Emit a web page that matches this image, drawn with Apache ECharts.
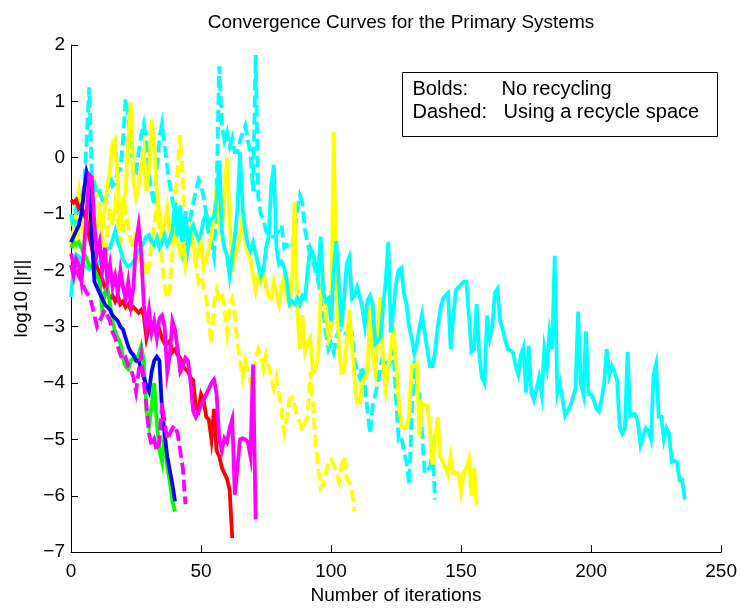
<!DOCTYPE html>
<html>
<head>
<meta charset="utf-8">
<title>Convergence Curves</title>
<script src="https://cdn.jsdelivr.net/npm/echarts@6/dist/echarts.min.js"></script>
<style>
  html, body { margin: 0; padding: 0; background: #fff; }
  #chart { width: 740px; height: 610px; }
</style>
</head>
<body>
<div id="chart"></div>
<script>
// log10 ||r|| per iteration (index = iteration number)
const redSolid = [-0.75, -0.8, -0.75, -0.9, -0.85, -1.0, -1.1, -1.4, -1.6, -1.8, -1.95, -2.05, -2.15, -2.3, -2.4, -2.5, -2.45, -2.55, -2.45, -2.6,
  -2.55, -2.65, -2.6, -2.7, -2.65, -2.7, -2.75, -2.7, -2.8, -3.2, -3.0, -3.0, -3.05, -3.1, -3.05, -3.2, -3.3, -3.3, -3.25, -3.45,
  -3.4, -3.5, -3.55, -3.7, -3.75, -3.8, -3.9, -3.95, -4.45, -4.5, -4.2, -4.3, -4.6, -4.65, -5.0, -4.46, -5.2, -5.3, -5.5, -5.6,
  -5.7, -5.9, -6.75];

const blueSolid = [-1.5, -1.4, -1.3, -1.2, -1.0, -0.6, -0.25, -0.4, -1.4, -2.2, -2.3, -2.4, -2.5, -2.6, -2.65, -2.7, -2.8, -2.85, -2.9, -3.0,
  -3.05, -3.2, -3.35, -3.45, -3.5, -3.6, -3.6, -3.75, -3.9, -4.05, -4.15, -3.8, -3.6, -3.53, -3.6, -4.47, -4.9, -5.3, -5.55, -5.8,
  -6.1];

const greenSolid = [-1.6, -1.5, -1.55, -1.5, -1.6, -1.7, -1.8, -1.9, -1.95, -2.0, -2.1, -2.2, -2.7, -2.4, -2.3, -2.6, -2.9, -3.1, -3.2, -3.3,
  -3.55, -3.7, -3.75, -3.6, -3.55, -3.6, -3.5, -3.35, -3.6, -4.5, -4.75, -4.4, -4.0, -4.7, -5.2, -5.4, -4.88, -5.5, -5.75, -6.1,
  -6.28];

const magentaSolid = [-1.9, -2.1, -1.8, -1.9, -2.2, -1.6, -1.0, -0.3, -0.35, -1.2, -1.7, -1.5, -2.0, -1.6, -2.2, -1.9, -2.3, -2.1, -2.4, -2.0,
  -2.3, -2.5, -2.2, -2.6, -2.3, -1.5, -1.2, -1.7, -2.6, -3.0, -2.7, -3.1, -2.9, -3.2, -2.85, -2.8, -3.0, -3.8, -3.5, -2.9,
  -3.05, -3.4, -3.8, -3.7, -3.55, -3.6, -4.0, -4.5, -4.6, -4.5, -4.4, -4.3, -4.2, -4.1, -4.0, -3.94, -4.2, -5.0, -5.2, -4.98,
  -5.05, -4.8, -4.64, -5.98, -5.5, -5.0, -4.98, -5.0, -5.05, -5.3, -3.67, -6.42];

const magentaDashed = [-1.7, -1.9, -2.0, -2.1, -2.2, -2.3, -2.4, -2.45, -2.6, -2.8, -3.0, -2.9, -2.8, -2.7, -2.8, -2.9, -3.1, -3.2, -3.35, -3.5,
  -3.6, -3.55, -3.7, -3.75, -3.9, -4.15, -3.8, -3.5, -4.0, -4.4, -4.9, -5.1, -5.0, -5.2, -5.05, -4.35, -4.7, -5.0, -4.9, -4.8,
  -4.75, -4.9, -5.2, -5.5, -6.15];

const yellowSolid = [-1.55, -1.3, -1.5, -1.25, -1.0, -1.2, -0.9, -1.1, -1.3, -1.4, -1.2, -1.0, -1.3, -0.9, -0.5, -0.2, 0.28, 0.33, -0.4, -1.3,
  -0.8, -0.6, 0.3, 0.98, -0.4, -0.7, -0.5, -0.2, 0.1, -0.6, -0.2, 0.68, 0.2, -0.6, -1.0, -1.4, -1.2, -0.9, -1.3, -1.5,
  -1.35, -1.5, -1.7, -1.5, -1.9, -1.6, -1.3, -1.5, -1.85, -1.6, -1.5, -1.95, -1.8, -1.6, -1.4, -1.0, -0.5, -1.2, -1.4, -0.6,
  0.0, -1.1, -1.95, -1.8, -1.6, -1.4, -1.0, -1.5, -1.7, -1.8, -2.1, -2.35, -2.1, -2.2, -2.0, -2.3, -2.45, -2.5, -2.2, -2.4,
  -2.6, -2.3, -2.1, -2.5, -2.6, -2.2, -0.78, -2.7, -3.4, -2.8, -3.45, -3.3, -3.2, -3.8, -3.76, -3.5, -2.5, -2.2, -2.8, -3.2,
  -3.0, 0.45, -2.2, -3.3, -3.82, -3.8, -3.3, -2.7, -3.3, -3.9, -4.35, -4.35, -4.0, -3.9, -3.8, -2.65, -3.5, -3.8, -3.1, -2.47,
  -3.6, -4.1, -3.7, -3.4, -3.0, -3.6, -4.3, -4.75, -4.8, -4.8, -4.6, -3.7, -3.7, -3.65, -4.95, -4.35, -4.4, -4.4, -4.8, -5.45,
  -5.0, -4.6, -5.3, -5.4, -5.5, -5.63, -5.3, -5.6, -5.6, -5.6, -5.93, -5.6, -5.5, -5.35, -6.0, -5.5, -6.16];

const yellowDashed = [-1.0, -1.4, -0.9, -0.6, -1.1, -1.5, -1.0, -0.6, -0.9, -0.4, -0.5, -0.9, -1.4, -1.7, -1.3, -0.9, -1.2, -0.8, -1.1, -1.5,
  -1.3, -0.9, -1.2, -1.5, -1.6, -1.3, -1.7, -2.0, -1.8, -2.1, -1.9, -1.5, -1.2, -0.8, -1.3, -1.8, -2.3, -2.5, -2.3, -1.6,
  -0.9, -0.2, 0.4, -0.4, -1.2, -1.5, -1.3, -1.6, -1.9, -2.2, -2.1, -2.3, -2.5, -2.95, -3.3, -2.6, -2.35, -2.5, -2.4, -2.7,
  -3.1, -2.6, -2.5, -2.8, -3.3, -3.6, -3.9, -3.6, -3.8, -4.0, -3.75, -3.6, -3.4, -3.5, -3.75, -3.5, -3.7, -3.9, -4.1, -3.9,
  -4.2, -4.5, -4.88, -4.6, -4.3, -4.25, -4.4, -4.6, -4.7, -4.85, -4.7, -4.6, -3.8, -4.35, -5.05, -5.5, -5.87, -5.8, -5.6, -5.4,
  -5.35, -5.45, -5.6, -5.75, -5.5, -5.3, -5.7, -5.75, -5.9, -6.28];

const cyanSolid = [-2.47, -1.95, -1.72, -1.75, -1.85, -1.9, -1.95, -1.98, -1.95, -1.97, -1.9, -1.85, -1.75, -1.68, -1.62, -1.6, -1.45, -1.3, -1.5, -1.62,
  -1.8, -1.88, -1.93, -1.9, -1.85, -1.75, -1.65, -1.6, -1.5, -1.4, -1.37, -1.5, -1.55, -1.42, -1.6, -1.5, -1.38, -1.55, -1.45, -1.3,
  -0.8, -1.4, -0.85, -1.5, -0.95, -1.6, -1.3, -1.2, -1.35, -1.45, -1.35, -1.1, -1.0, -1.2, -1.1, -1.05, -0.75, -0.05, -1.3, -1.6,
  -1.75, -2.1, -1.75, -1.4, -0.9, 0.1, -0.9, -1.3, -1.55, -1.65, -1.5, -1.7, -1.9, -2.1, -2.0, -1.6, -1.4, -0.5, -0.13, -1.6,
  -1.9, -1.85, -1.95, -2.2, -2.6, -2.55, -2.6, -2.5, -2.6, -2.45, -2.5, -2.0, -1.6, -1.7, -1.9, -2.1, -1.4, -2.4, -2.55, -2.5,
  -2.9, -2.0, -1.48, -2.2, -3.0, -2.5, -1.9, -1.77, -2.5, -2.45, -2.3, -2.45, -2.67, -2.98, -2.53, -2.45, -2.6, -3.3, -3.25, -3.2,
  -2.67, -2.2, -1.5, -3.1, -2.7, -2.23, -2.0, -1.96, -2.4, -2.6, -3.0, -3.2, -3.47, -3.3, -3.0, -2.78, -3.1, -3.4, -3.7, -3.7,
  -3.45, -3.0, -2.7, -2.5, -2.45, -2.4, -3.4, -2.8, -2.35, -2.3, -2.25, -2.2, -2.2, -2.8, -3.44, -3.4, -2.6, -3.5, -3.9, -4.0,
  -2.8, -3.2, -3.0, -2.4, -2.33, -2.9, -3.05, -3.25, -3.4, -3.42, -3.46, -3.7, -3.85, -3.5, -3.37, -4.17, -3.34, -4.17, -4.3, -4.1,
  -3.9, -4.2, -3.4, -3.7, -3.1, -3.4, -1.74, -4.18, -4.0, -4.3, -4.58, -4.5, -4.4, -4.25, -4.1, -2.73, -4.0, -4.2, -3.08, -4.2,
  -4.2, -4.3, -4.45, -4.5, -4.3, -4.0, -3.4, -3.86, -3.7, -3.8, -3.95, -4.8, -4.9, -4.8, -3.45, -4.58, -4.55, -4.55, -4.7, -5.1,
  -4.95, -4.8, -4.85, -5.0, -3.86, -3.66, -4.6, -4.6, -5.0, -4.8, -4.9, -5.4, -5.38, -5.4, -5.72, -5.72, -6.07];

const cyanDashed = [-1.0, -1.3, -0.9, -1.2, -0.8, -0.5, 0.3, 1.25, -0.3, -0.45, -0.65, -0.6, -0.75, -0.85, -0.6, -0.3, -0.5, -0.45, -0.25, -0.2,
  0.3, 1.05, 0.7, 0.3, -0.2, -0.25, 0.1, 0.4, 0.6, 0.3, -0.3, -0.6, -0.85, -0.2, 0.35, 0.6, 0.2, -0.15, -0.5, -0.75,
  -1.0, -1.25, -1.1, -1.65, -1.4, -1.2, -1.05, -0.8, -0.6, -0.4, -0.5, -0.7, -1.0, -1.4, -1.5, -1.75, -0.5, 1.62, 0.6, 0.3,
  0.45, 0.2, 0.35, 0.1, 0.1, 0.3, 0.45, 0.57, 0.3, 0.1, -0.6, 1.82, -0.7, -1.0, -1.1, -1.3, -1.4, -1.4, -1.4, -1.35,
  -1.3, -1.2, -1.6, -1.55, -1.6, -1.6, -1.3, -0.9, -0.67, -0.8, -1.3, -1.5, -1.75, -1.85, -2.0, -2.2, -2.4, -2.7, -3.1, -3.4,
  -3.3, -3.45, -3.2, -3.05, -3.1, -3.15, -3.1, -3.1, -3.1, -3.6, -3.8, -3.9, -3.7, -4.05, -4.5, -4.9, -4.4, -4.2, -4.0, -3.7,
  -3.5, -3.6, -3.7, -3.6, -3.4, -4.3, -5.0, -4.95, -5.2, -5.4, -5.8, -4.6, -3.6, -4.0, -4.2, -4.9, -5.6, -5.55, -5.5, -5.2,
  -6.07];

const xTicks = [0, 50, 100, 150, 200, 250];
const yTicks = [-7, -6, -5, -4, -3, -2, -1, 0, 1, 2];

const font = 'Liberation Sans, Arial, Helvetica, sans-serif';
const dash = [12, 5];

function toPoints(values) {
  return values.map(function (v, i) { return [i, v]; });
}

function curve(name, values, color, dashed) {
  return {
    name: name,
    type: 'line',
    data: toPoints(values),
    showSymbol: false,
    symbol: 'none',
    animation: false,
    lineStyle: {color: color, width: 3.8, type: dashed ? dash : 'solid', cap: 'butt', join: 'miter'}
  };
}

const chart = echarts.init(document.getElementById('chart'));
const option = {
  backgroundColor: '#fff',
  animation: false,
  title: {
    text: 'Convergence Curves for the Primary Systems',
    left: 396,
    top: 8,
    textAlign: 'center',
    textStyle: {fontFamily: font, fontSize: 19, fontWeight: 'normal', color: '#000'}
  },
  grid: {left: 71, right: 18, top: 45, bottom: 52},
  xAxis: {
    type: 'value',
    min: xTicks[0],
    max: xTicks[xTicks.length - 1],
    interval: 50,
    name: 'Number of iterations',
    nameLocation: 'middle',
    nameGap: 31,
    nameTextStyle: {fontFamily: font, fontSize: 19, color: '#000'},
    axisLine: {show: true, onZero: false, lineStyle: {color: '#000', width: 1}},
    axisTick: {show: true, inside: true, length: 7, lineStyle: {color: '#000'}},
    axisLabel: {fontFamily: font, fontSize: 19, color: '#000', margin: 10},
    splitLine: {show: false}
  },
  yAxis: {
    type: 'value',
    min: yTicks[0],
    max: yTicks[yTicks.length - 1],
    interval: 1,
    name: 'log10 ||r||',
    nameLocation: 'middle',
    nameGap: 40,
    nameTextStyle: {fontFamily: font, fontSize: 19, color: '#000'},
    axisLine: {show: true, onZero: false, lineStyle: {color: '#000', width: 1}},
    axisTick: {show: true, inside: true, length: 7, lineStyle: {color: '#000'}},
    axisLabel: {
      fontFamily: font, fontSize: 19, color: '#000', margin: 6,
      formatter: function (v) { return v < 0 ? '\u2212' + Math.abs(v) : String(v); }
    },
    splitLine: {show: false}
  },
  series: [
    curve('yellow dashed', yellowDashed, '#ffff00', true),
    curve('cyan dashed', cyanDashed, '#00ffff', true),
    curve('yellow', yellowSolid, '#ffff00', false),
    curve('cyan', cyanSolid, '#00ffff', false),
    curve('red', redSolid, '#ff0000', false),
    curve('green', greenSolid, '#00ff00', false),
    curve('blue', blueSolid, '#0000ff', false),
    curve('magenta dashed', magentaDashed, '#ff00ff', true),
    curve('magenta', magentaSolid, '#ff00ff', false)
  ],
  graphic: [{
    type: 'group',
    left: 402,
    top: 72,
    children: [
      {type: 'rect', shape: {x: 0, y: 0, width: 315, height: 64}, style: {fill: '#fff', stroke: '#000', lineWidth: 1}},
      {type: 'text', x: 10, y: 17, style: {text: 'Bolds:', font: '20px ' + font, fill: '#000', textVerticalAlign: 'middle'}},
      {type: 'text', x: 99, y: 17, style: {text: 'No recycling', font: '20px ' + font, fill: '#000', textVerticalAlign: 'middle'}},
      {type: 'text', x: 10, y: 40, style: {text: 'Dashed:', font: '20px ' + font, fill: '#000', textVerticalAlign: 'middle'}},
      {type: 'text', x: 101, y: 40, style: {text: 'Using a recycle space', font: '20px ' + font, fill: '#000', textVerticalAlign: 'middle'}}
    ]
  }]
};
chart.setOption(option);
window.addEventListener('resize', function () {
  chart.resize();
});
</script>
</body>
</html>
